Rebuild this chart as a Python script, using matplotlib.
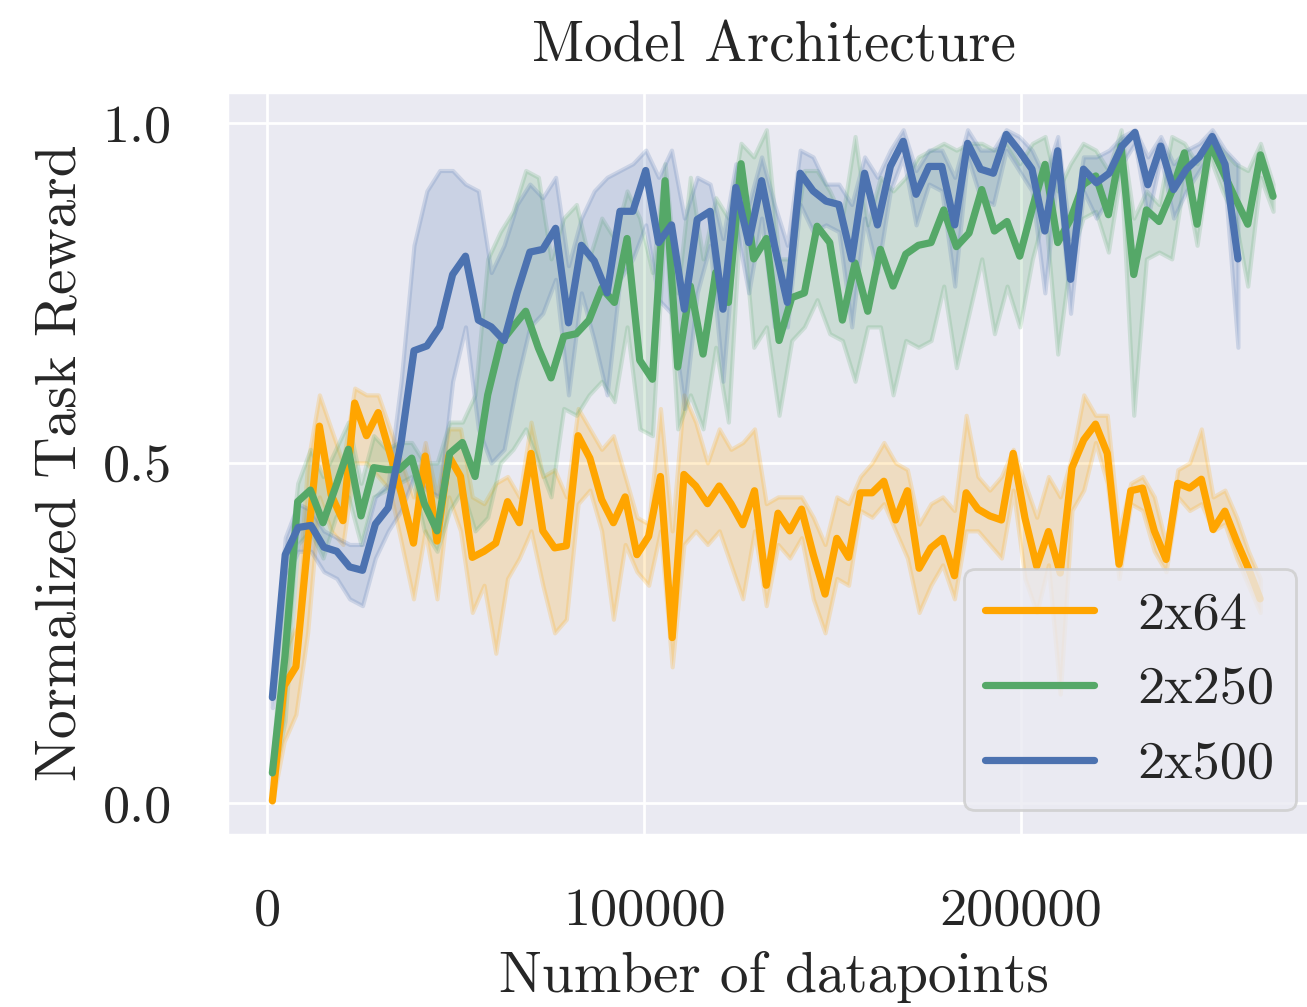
import numpy as np
import matplotlib
matplotlib.use("Agg")
import matplotlib.pyplot as plt
import seaborn as sns

# =========================
# 1. DATA
# =========================

labels = ["2x64", "2x250", "2x500"]
colors = ["#FFA500", "#55A868", "#4C72B0"]

# datapoints collected before the first evaluation / per evaluation
x_start = 1330
step_64 = 3121
step_250 = 3362
step_500 = 3417

reward_64 = [0.003, 0.172, 0.200, 0.380, 0.554, 0.453, 0.415, 0.588, 0.540, 0.574,
             0.514, 0.453, 0.382, 0.510, 0.385, 0.510, 0.480, 0.361, 0.370, 0.382,
             0.443, 0.412, 0.514, 0.400, 0.375, 0.378, 0.540, 0.507, 0.446, 0.412,
             0.450, 0.365, 0.392, 0.480, 0.243, 0.483, 0.466, 0.440, 0.466, 0.440,
             0.409, 0.459, 0.320, 0.426, 0.400, 0.432, 0.365, 0.307, 0.389, 0.361,
             0.456, 0.456, 0.473, 0.416, 0.459, 0.345, 0.375, 0.389, 0.334, 0.456,
             0.432, 0.422, 0.416, 0.514, 0.419, 0.348, 0.399, 0.338, 0.493, 0.534,
             0.557, 0.514, 0.351, 0.459, 0.463, 0.400, 0.358, 0.470, 0.463, 0.476,
             0.402, 0.429, 0.385, 0.345, 0.300]
lo_64 = [0.000, 0.090, 0.130, 0.250, 0.450, 0.400, 0.380, 0.500, 0.500, 0.480,
         0.460, 0.380, 0.300, 0.400, 0.300, 0.450, 0.400, 0.280, 0.320, 0.220,
         0.330, 0.360, 0.400, 0.320, 0.250, 0.270, 0.440, 0.460, 0.400, 0.270,
         0.380, 0.340, 0.320, 0.400, 0.200, 0.380, 0.400, 0.380, 0.400, 0.350,
         0.300, 0.400, 0.290, 0.380, 0.360, 0.390, 0.300, 0.250, 0.330, 0.320,
         0.430, 0.420, 0.440, 0.400, 0.360, 0.280, 0.320, 0.350, 0.300, 0.400,
         0.400, 0.380, 0.360, 0.460, 0.330, 0.280, 0.350, 0.160, 0.430, 0.460,
         0.530, 0.470, 0.330, 0.440, 0.430, 0.370, 0.340, 0.450, 0.430, 0.440,
         0.400, 0.410, 0.360, 0.320, 0.280]
hi_64 = [0.010, 0.220, 0.260, 0.500, 0.600, 0.550, 0.500, 0.610, 0.600, 0.600,
         0.550, 0.500, 0.450, 0.530, 0.450, 0.550, 0.550, 0.450, 0.440, 0.470,
         0.480, 0.450, 0.560, 0.480, 0.490, 0.450, 0.580, 0.550, 0.520, 0.540,
         0.480, 0.420, 0.410, 0.580, 0.400, 0.600, 0.560, 0.500, 0.550, 0.520,
         0.530, 0.550, 0.440, 0.450, 0.450, 0.450, 0.420, 0.380, 0.450, 0.440,
         0.480, 0.500, 0.530, 0.500, 0.490, 0.410, 0.440, 0.450, 0.430, 0.570,
         0.480, 0.460, 0.480, 0.520, 0.470, 0.420, 0.480, 0.450, 0.510, 0.600,
         0.570, 0.570, 0.400, 0.470, 0.480, 0.450, 0.380, 0.490, 0.500, 0.550,
         0.450, 0.460, 0.420, 0.370, 0.330]

reward_250 = [0.044, 0.216, 0.443, 0.460, 0.412, 0.465, 0.520, 0.422, 0.493, 0.490,
              0.490, 0.507, 0.440, 0.400, 0.514, 0.530, 0.480, 0.600, 0.676, 0.700,
              0.723, 0.669, 0.625, 0.686, 0.690, 0.710, 0.757, 0.736, 0.830, 0.651,
              0.623, 0.915, 0.641, 0.760, 0.660, 0.780, 0.736, 0.940, 0.800, 0.830,
              0.680, 0.743, 0.750, 0.848, 0.824, 0.710, 0.794, 0.723, 0.814, 0.760,
              0.807, 0.820, 0.824, 0.872, 0.818, 0.838, 0.902, 0.841, 0.855, 0.804,
              0.875, 0.939, 0.824, 0.858, 0.909, 0.922, 0.865, 0.966, 0.777, 0.872,
              0.855, 0.899, 0.956, 0.851, 0.970, 0.930, 0.890, 0.851, 0.953, 0.892]
lo_250 = [0.030, 0.120, 0.380, 0.400, 0.360, 0.420, 0.450, 0.380, 0.450, 0.460,
          0.470, 0.480, 0.400, 0.370, 0.430, 0.460, 0.400, 0.420, 0.500, 0.520,
          0.550, 0.500, 0.450, 0.580, 0.570, 0.600, 0.620, 0.590, 0.700, 0.550,
          0.540, 0.860, 0.550, 0.600, 0.550, 0.670, 0.560, 0.880, 0.670, 0.700,
          0.570, 0.680, 0.700, 0.740, 0.690, 0.680, 0.620, 0.700, 0.700, 0.600,
          0.680, 0.670, 0.680, 0.760, 0.640, 0.720, 0.800, 0.690, 0.760, 0.700,
          0.800, 0.870, 0.660, 0.800, 0.860, 0.870, 0.810, 0.930, 0.570, 0.800,
          0.810, 0.800, 0.920, 0.820, 0.950, 0.900, 0.860, 0.760, 0.920, 0.870]
hi_250 = [0.060, 0.300, 0.470, 0.520, 0.480, 0.520, 0.560, 0.470, 0.540, 0.520,
          0.530, 0.530, 0.500, 0.500, 0.560, 0.560, 0.600, 0.800, 0.840, 0.870,
          0.930, 0.920, 0.800, 0.860, 0.880, 0.800, 0.860, 0.830, 0.900, 0.860,
          0.780, 0.940, 0.750, 0.920, 0.800, 0.890, 0.860, 0.970, 0.950, 0.990,
          0.800, 0.800, 0.930, 0.930, 0.900, 0.860, 0.980, 0.850, 0.920, 0.900,
          0.920, 0.950, 0.960, 0.970, 0.960, 0.970, 0.970, 0.960, 0.970, 0.940,
          0.970, 0.980, 0.900, 0.940, 0.970, 0.960, 0.930, 0.990, 0.860, 0.900,
          0.880, 0.980, 0.970, 0.940, 0.980, 0.960, 0.940, 0.930, 0.970, 0.910]

reward_500 = [0.155, 0.365, 0.405, 0.408, 0.376, 0.370, 0.347, 0.342, 0.410, 0.434,
              0.530, 0.665, 0.672, 0.700, 0.777, 0.804, 0.710, 0.700,
              0.680, 0.750, 0.810, 0.814, 0.845, 0.706, 0.820, 0.797, 0.750, 0.870,
              0.870, 0.930, 0.824, 0.850, 0.726, 0.858, 0.870, 0.726, 0.905, 0.824,
              0.915, 0.820, 0.736, 0.926, 0.900, 0.885, 0.880, 0.800, 0.926, 0.850,
              0.936, 0.973, 0.895, 0.936, 0.936, 0.850, 0.970, 0.932, 0.926, 0.983,
              0.959, 0.932, 0.841, 0.959, 0.770, 0.932, 0.912, 0.926, 0.966, 0.986,
              0.909, 0.966, 0.902, 0.932, 0.950, 0.980, 0.939, 0.800]
lo_500 = [0.140, 0.330, 0.370, 0.370, 0.340, 0.330, 0.300, 0.290, 0.360, 0.400,
          0.430, 0.480, 0.460, 0.450, 0.620, 0.700, 0.550, 0.500,
          0.520, 0.620, 0.700, 0.720, 0.770, 0.600, 0.750, 0.680, 0.600, 0.770,
          0.800, 0.850, 0.740, 0.720, 0.580, 0.750, 0.820, 0.620, 0.850, 0.750,
          0.860, 0.700, 0.700, 0.880, 0.840, 0.850, 0.840, 0.700, 0.860, 0.780,
          0.900, 0.950, 0.850, 0.910, 0.900, 0.760, 0.950, 0.890, 0.880, 0.960,
          0.930, 0.900, 0.750, 0.930, 0.720, 0.900, 0.860, 0.890, 0.940, 0.970,
          0.860, 0.950, 0.860, 0.900, 0.930, 0.960, 0.910, 0.670]
hi_500 = [0.170, 0.390, 0.440, 0.430, 0.400, 0.390, 0.380, 0.380, 0.450, 0.470,
          0.620, 0.820, 0.900, 0.930, 0.930, 0.910, 0.900, 0.780,
          0.820, 0.880, 0.910, 0.890, 0.920, 0.790, 0.860, 0.900, 0.920, 0.930,
          0.940, 0.960, 0.920, 0.960, 0.860, 0.920, 0.910, 0.830, 0.940, 0.880,
          0.950, 0.880, 0.820, 0.960, 0.950, 0.910, 0.910, 0.880, 0.950, 0.920,
          0.960, 0.990, 0.930, 0.960, 0.960, 0.920, 0.990, 0.960, 0.960, 0.990,
          0.980, 0.960, 0.920, 0.980, 0.830, 0.950, 0.950, 0.960, 0.980, 0.990,
          0.950, 0.980, 0.940, 0.960, 0.970, 0.990, 0.960, 0.940]

series = [
    (reward_64, lo_64, hi_64, step_64),
    (reward_250, lo_250, hi_250, step_250),
    (reward_500, lo_500, hi_500, step_500),
]

# =========================
# 2. STYLE
# =========================

sns.set_theme(style="darkgrid")
plt.rcParams["font.family"] = ["cmr10", "DejaVu Serif"]
plt.rcParams["axes.formatter.use_mathtext"] = True
plt.rcParams["mathtext.fontset"] = "cm"

# =========================
# 3. PLOT
# =========================

fig = plt.figure(figsize=(6.535, 5.035), dpi=200)
# the original figure is cropped on the right, so the axes run past the edge
ax = fig.add_axes([0.174, 0.171, 0.836, 0.738])

for (y, lo, hi, step), label, c in zip(series, labels, colors):
    x = x_start + np.arange(len(y)) * step
    ax.fill_between(x, lo, hi, color=c, alpha=0.2, linewidth=1.5)
    ax.plot(x, y, color=c, linewidth=2.6, label=label)

ax.set_xlim(-10600, 279400)
ax.set_ylim(-0.047, 1.046)
ax.set_xticks([0, 100000, 200000])
ax.set_yticks([0.0, 0.5, 1.0])
ax.set_xticklabels(["0", "100000", "200000"])
ax.set_yticklabels(["0.0", "0.5", "1.0"])
ax.tick_params(axis="x", labelsize=19.5, pad=13)
ax.tick_params(axis="y", labelsize=19.5, pad=14)

ax.set_title("Model Architecture", fontsize=20.5, pad=11)
ax.set_xlabel("Number of datapoints", fontsize=20.6, labelpad=6)
ax.set_ylabel("Normalized Task Reward", fontsize=20.6, labelpad=6)

leg = ax.legend(loc="lower right", fontsize=19.5, framealpha=0.8,
                borderaxespad=0.45)
for line in leg.get_lines():
    line.set_linewidth(2.6)

fig.savefig("out.png", dpi=200)
